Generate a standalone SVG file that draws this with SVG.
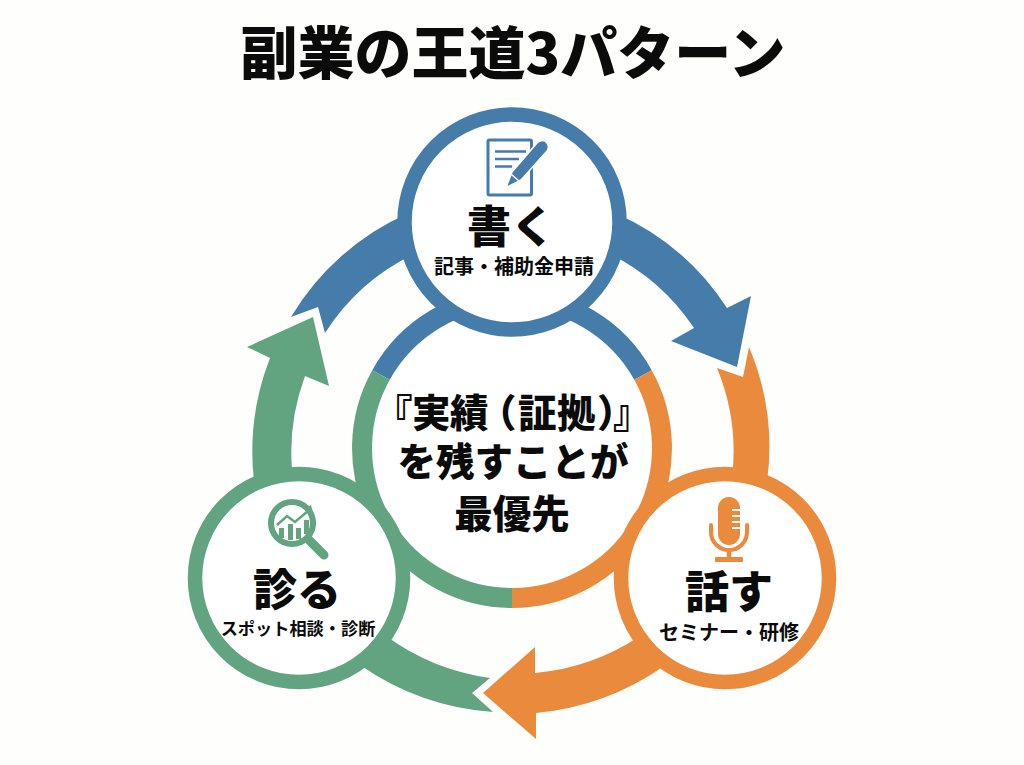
<svg xmlns="http://www.w3.org/2000/svg" width="1024" height="765" viewBox="0 0 1024 765">
<style>
text{font-family:"Noto Sans CJK JP","Noto Sans",sans-serif;fill:#0b0b0b;text-anchor:middle}
.t{font-size:57px;font-weight:900}
.c{font-size:38.5px;font-weight:900}
.l{text-anchor:start}
.h{font-size:44px;font-weight:900}
.s{font-size:20px;font-weight:700}
.n{font-size:17.200px}
.ring{fill:#fff;stroke-width:14.5}
.b{fill:#457caa}.o{fill:#ea8a3c}.g{fill:#62a380}
.bs{stroke:#457caa}.os{stroke:#ea8a3c}.gs{stroke:#62a380}
.arc{fill:none;stroke-width:20}
</style>
<rect width="1024" height="765" fill="#fefefc"/>
<text class="t" x="513" y="74">副業の王道3パターン</text>
<g id="connectors">
<path class="b" d="M615,213A256,256 0 0 1 727,308L751,296L737,367L671,341L694,328A218,218 0 0 0 610,254Z"/>
<path class="b" d="M409,213A256,256 0 0 0 291,317L318,307L325,333A218,218 0 0 1 414,254Z"/>
<path class="g" d="M254,481A258,258 0 0 1 270,358L247,347L313,317L329,386L305,376A220,220 0 0 0 292,470Z"/>
<path class="o" d="M717,368L743,377L749,347A258,258 0 0 1 767,482L732,478A220,220 0 0 0 717,368Z"/>
<path class="o" d="M640,636A226,226 0 0 1 535,673L535,647L483,693L536,739L536,713A266,266 0 0 0 664,666Z"/>
<path class="g" d="M386,636A231,231 0 0 0 490,678L472,693L493,712A265,265 0 0 1 360,665Z"/>
</g>
<g id="center">
<circle cx="512" cy="448" r="150" fill="#fff"/>
<path class="arc bs" d="M381,375A150,150 0 0 1 643,375"/>
<path class="arc os" d="M643,375A150,150 0 0 1 512,598"/>
<path class="arc gs" d="M512,598A150,150 0 0 1 381,375"/>
<text class="c l" x="374 412 450 478 518 557 597 613" y="427">『実績（証拠）』</text>
<text class="c" x="513" y="476">を残すことが</text>
<text class="c" x="512" y="528">最優先</text>
</g>
<g id="node-write">
<circle class="ring bs" cx="512" cy="222" r="107.5"/>
<rect x="488" y="140" width="43.500" height="55" rx="1.500" fill="#fff" stroke="#457caa" stroke-width="3"/>
<path d="M495,151.500H526M495,159H519M495,166.500H512" stroke="#457caa" stroke-width="2.500" fill="none"/>
<path d="M506,187.500L512,172L537,143A5,5 0 0 1 547,151L521,180Z" class="b" stroke="#fff" stroke-width="1.500"/>
<path d="M511,174L520,182" stroke="#fff" stroke-width="1.500"/>
<text class="h" x="511" y="243">書く</text>
<text class="s" x="514" y="274">記事・補助金申請</text>
</g>
<g id="node-diagnose">
<circle class="ring gs" cx="299" cy="578" r="104"/>
<circle cx="292" cy="523" r="21" fill="#fff" stroke="#62a380" stroke-width="6"/>
<path d="M309,540L324,555" stroke="#62a380" stroke-width="9" stroke-linecap="round"/>
<path class="g" d="M279,528h5v10h-5zM288,524h5v16h-5zM296,528h5v11h-5zM304,520h5v14h-5z"/>
<path d="M277,525L287,516L295,522L308,511" fill="none" stroke="#62a380" stroke-width="2.500"/>
<path class="g" d="M304,509L313,513L311,505Z"/>
<text class="h" x="297" y="606">診る</text>
<text class="s n" x="298" y="635">スポット相談・診断</text>
</g>
<g id="node-speak">
<circle class="ring os" cx="725" cy="578" r="104"/>
<rect class="o" x="718" y="497" width="22" height="48" rx="11"/>
<path d="M732,510H740M732,516H740M732,522H740M732,528H740" stroke="#fff" stroke-width="2"/>
<path d="M711,525V532A18,18 0 0 0 747,532V525" fill="none" stroke="#ea8a3c" stroke-width="4" stroke-linecap="round"/>
<path d="M729,550V559" stroke="#ea8a3c" stroke-width="4.500"/>
<rect class="o" x="715" y="557" width="28" height="5" rx="1"/>
<text class="h" x="729" y="608">話す</text>
<text class="s" x="729" y="640">セミナー・研修</text>
</g>
</svg>
